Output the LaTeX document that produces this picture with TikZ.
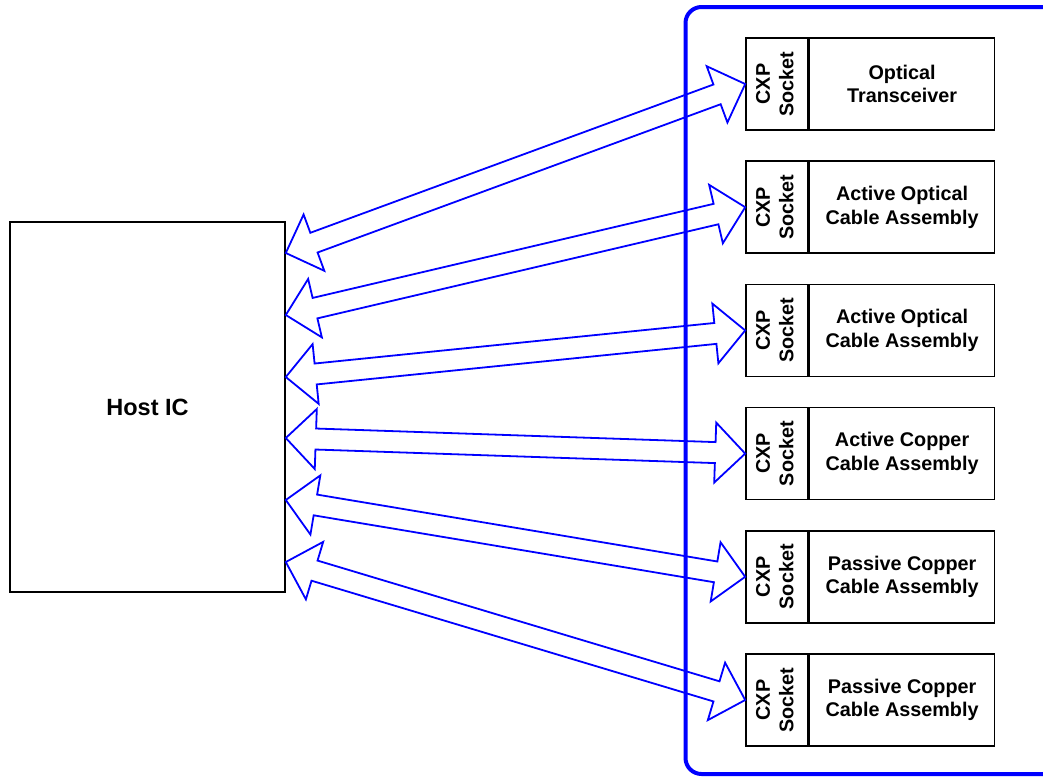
\documentclass[tikz,border=0pt]{standalone}
\usepackage{fontspec}
\usepackage{graphicx}
\setmainfont{Liberation Sans}
\usetikzlibrary{calc}
\definecolor{linkblue}{RGB}{0,0,255}

\tikzset{
  labelfont/.style={font=\fontsize{19.8}{23.5}\selectfont\bfseries},
  hostbox/.style={draw=black, line width=1.6pt, minimum width=275pt,
    minimum height=370pt, inner sep=0pt,
    font=\fontsize{23.5}{28}\selectfont\bfseries},
  socketbox/.style={draw=black, line width=1.6pt, minimum width=62pt,
    minimum height=92pt, inner sep=0pt, labelfont},
  modulebox/.style={draw=black, line width=1.6pt, minimum width=185pt,
    minimum height=92pt, inner sep=0pt, align=center, anchor=west, labelfont},
  panel/.style={draw=linkblue, line width=4pt, rounded corners=16pt},
  linkline/.style={draw=linkblue, line width=1.8pt, line join=miter},
}

% hollow two-headed arrow between two named points
\newcommand\linkarrow[2]{%
  \coordinate (pA) at ($(#1)!30pt!(#2)$);
  \coordinate (pB) at ($(#2)!30pt!(#1)$);
  \draw[linkline] (#1)
    -- ($(pA)!30pt!90:(#2)$) -- ($(pA)!10.5pt!90:(#2)$)
    -- ($(pB)!10.5pt!-90:(#1)$) -- ($(pB)!30pt!-90:(#1)$)
    -- (#2)
    -- ($(pB)!30pt!90:(#1)$) -- ($(pB)!10.5pt!90:(#1)$)
    -- ($(pA)!10.5pt!-90:(#2)$) -- ($(pA)!30pt!-90:(#2)$)
    -- cycle;}

\newcommand\socketlabel{\rotatebox{90}{%
  \begin{tabular}{@{}c@{}}CXP\\Socket\end{tabular}}}

\begin{document}
\begin{tikzpicture}[x=1pt, y=-1pt]
  \useasboundingbox (0,0) rectangle (1043,777);
  \clip (0,0) rectangle (1043,777);

  % module panel
  \draw[panel] (685.5,7) rectangle (1120,774);

  % host chip
  \node[hostbox] (host) at (147.5,407) {Host IC};

  % sockets with their plugged modules
  \node[socketbox] (s1) at (777,84.0) {\socketlabel};
  \node[modulebox] (m1) at (s1.east) {Optical\\Transceiver};
  \node[socketbox] (s2) at (777,207.2) {\socketlabel};
  \node[modulebox] (m2) at (s2.east) {Active Optical\\Cable Assembly};
  \node[socketbox] (s3) at (777,330.4) {\socketlabel};
  \node[modulebox] (m3) at (s3.east) {Active Optical\\Cable Assembly};
  \node[socketbox] (s4) at (777,453.6) {\socketlabel};
  \node[modulebox] (m4) at (s4.east) {Active Copper\\Cable Assembly};
  \node[socketbox] (s5) at (777,576.8) {\socketlabel};
  \node[modulebox] (m5) at (s5.east) {Passive Copper\\Cable Assembly};
  \node[socketbox] (s6) at (777,700.0) {\socketlabel};
  \node[modulebox] (m6) at (s6.east) {Passive Copper\\Cable Assembly};

  % host-side link ports
  \coordinate (h1) at (host.east |- 0,253);
  \coordinate (h2) at (host.east |- 0,315);
  \coordinate (h3) at (host.east |- 0,377);
  \coordinate (h4) at (host.east |- 0,438);
  \coordinate (h5) at (host.east |- 0,500);
  \coordinate (h6) at (host.east |- 0,562);

  % links
  \linkarrow{h1}{s1.west}
  \linkarrow{h2}{s2.west}
  \linkarrow{h3}{s3.west}
  \linkarrow{h4}{s4.west}
  \linkarrow{h5}{s5.west}
  \linkarrow{h6}{s6.west}
\end{tikzpicture}
\end{document}
